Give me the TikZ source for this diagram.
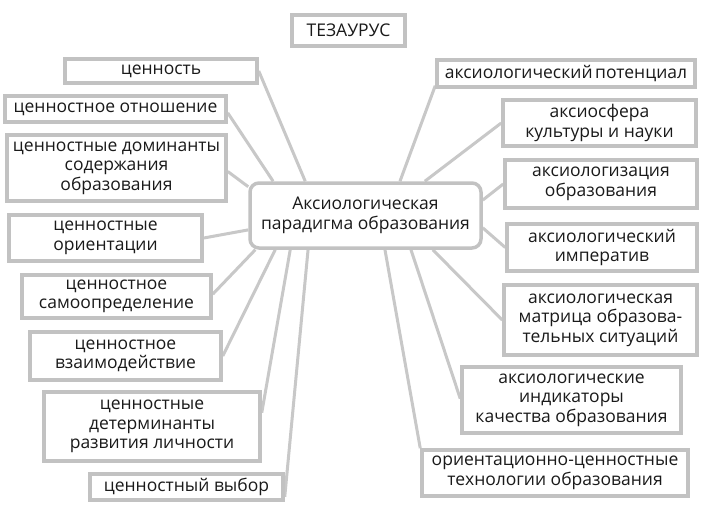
\documentclass[tikz,border=0pt]{standalone}
\usepackage{fontspec}
\setmainfont{Open Sans}
\usetikzlibrary{calc,backgrounds}
\definecolor{bordc}{HTML}{C2C2C2}
\definecolor{linec}{HTML}{C8C8C8}
\definecolor{txtc}{HTML}{1A1A1A}
\begin{document}
\begin{tikzpicture}[x=1pt,y=-1pt,
  box/.style={draw=bordc,line width=3.5pt,fill=white,align=center,inner sep=0pt,
    text=txtc,font=\fontsize{17.5}{19.5}\selectfont},
  centerbox/.style={box,rounded corners=9pt},
  conn/.style={draw=linec,line width=3pt}]
\useasboundingbox (0,0) rectangle (703,506);
% top
\node[box,minimum width=113pt,minimum height=31pt] (T) at (348.5,30.5) {ТЕЗАУРУС};
% center
\node[centerbox,minimum width=231pt,minimum height=65pt] (C) at (365.5,215.5) {Аксиологическая\\парадигма образования};
% left column
\node[box,minimum width=192pt,minimum height=24pt] (L1) at (161,71) {ценность};
\node[box,minimum width=221pt,minimum height=26pt] (L2) at (115.5,109) {ценностное отношение};
\node[box,minimum width=219pt,minimum height=66pt] (L3) at (116.5,168) {ценностные доминанты\\содержания\\образования};
\node[box,minimum width=193pt,minimum height=46pt] (L4) at (105.5,238) {ценностные\\ориентации};
\node[box,minimum width=189pt,minimum height=43pt] (L5) at (116.5,296.5) {ценностное\\самоопределение};
\node[box,minimum width=191pt,minimum height=48pt] (L6) at (125.5,356) {ценностное\\взаимодействие};
\node[box,minimum width=216pt,minimum height=69pt] (L7) at (152,426.5) {ценностные\\детерминанты\\развития личности};
\node[box,minimum width=193pt,minimum height=26pt] (L8) at (186.5,487) {ценностный выбор};
% right column
\node[box,minimum width=258pt,minimum height=27pt] (R1) at (566,73.5) {аксиологический\kern-2pt\ потенциал};
\node[box,minimum width=193pt,minimum height=46pt] (R2) at (599.5,123) {аксиосфера\\культуры и науки};
\node[box,minimum width=192pt,minimum height=48pt] (R3) at (601,184) {аксиологизация\\образования};
\node[box,minimum width=190pt,minimum height=47pt] (R4) at (602,247.5) {аксиологический\\императив};
\node[box,minimum width=193pt,minimum height=70pt] (R5) at (600.5,320) {аксиологическая\\матрица образова-\\тельных ситуаций};
\node[box,minimum width=219pt,minimum height=66pt] (R6) at (571.5,400) {аксиологические\\индикаторы\\качества образования};
\node[box,minimum width=266pt,minimum height=46pt] (R7) at (555,473) {ориентационно-ценностные\\технологии образования};
% connectors
\begin{scope}[on background layer]
\fill[white] (0,0) rectangle (703,506);
\draw[conn] (L1.east) -- ($(C.north west)!0.243!(C.north east)$);
\draw[conn] ($(L2.north east)!0.63!(L2.south east)$) -- ($(C.north west)!0.106!(C.north east)$);
\draw[conn] ($(L3.north east)!0.55!(L3.south east)$) -- ($(C.north west)!0.08!(C.south west)$);
\draw[conn] (L4.east) -- ($(C.north west)!0.71!(C.south west)$);
\draw[conn] ($(L5.north east)!0.45!(L5.south east)$) -- ($(C.south west)!0.03!(C.south east)$);
\draw[conn] (L6.east) -- ($(C.south west)!0.115!(C.south east)$);
\draw[conn] ($(L7.north east)!0.31!(L7.south east)$) -- ($(C.south west)!0.179!(C.south east)$);
\draw[conn] ($(L8.north east)!0.83!(L8.south east)$) -- ($(C.south west)!0.255!(C.south east)$);
\draw[conn] ($(R1.north west)!0.9!(R1.south west)$) -- ($(C.north west)!0.647!(C.north east)$);
\draw[conn] (R2.west) -- ($(C.north west)!0.753!(C.north east)$);
\draw[conn] (R3.west) -- ($(C.north east)!0.275!(C.south east)$);
\draw[conn] (R4.west) -- ($(C.north east)!0.68!(C.south east)$);
\draw[conn] (R5.west) -- ($(C.south west)!0.787!(C.south east)$);
\draw[conn] ($(R6.north west)!0.48!(R6.south west)$) -- ($(C.south west)!0.694!(C.south east)$);
\draw[conn] (R7.north west) -- ($(C.south west)!0.583!(C.south east)$);
\end{scope}
\end{tikzpicture}
\end{document}
